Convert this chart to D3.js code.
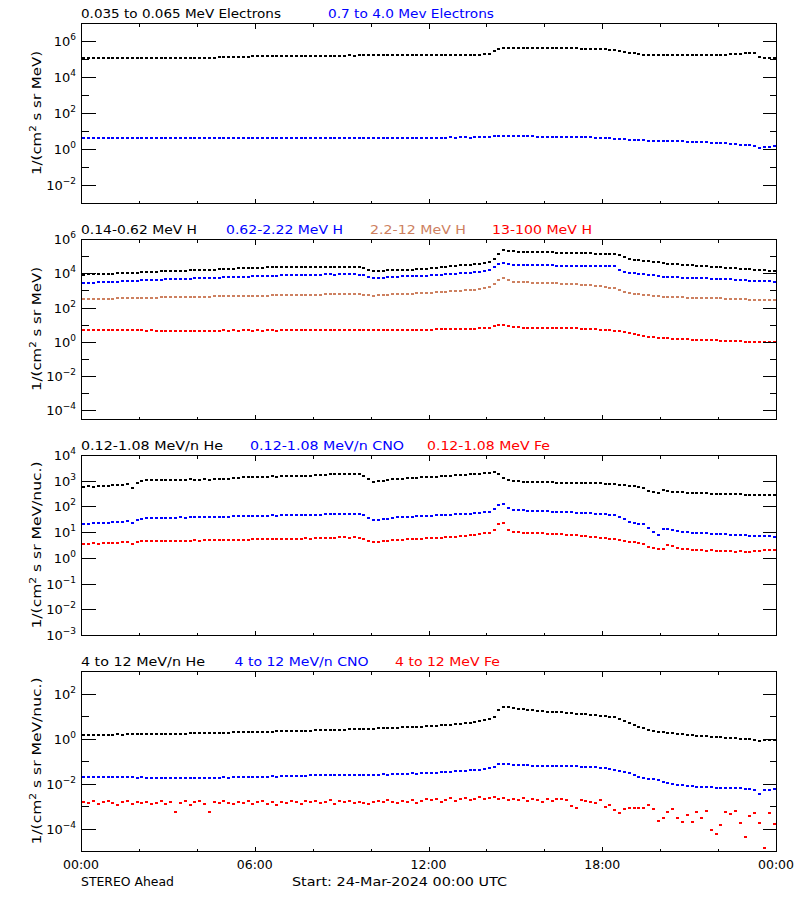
<!DOCTYPE html>
<html><head><meta charset="utf-8">
<script src="https://cdn.jsdelivr.net/npm/d3@7"></script>
<style>
body{margin:0;background:#fff}
svg{display:block}
text{font-family:"DejaVu Sans",sans-serif;fill:#000}
</style>
</head><body><div id="chart"></div>
<script>
// ---------------- DATA (log10 of flux, 10-minute bins starting 24-Mar-2024 00:00 UTC) ----------------
const stepMinutes = 10;
const xTickHours = [0,2,4,6,8,10,12,14,16,18,20,22,24];
const xMajorHours = [0,6,12,18,24];
const xTickLabels = ["00:00","06:00","12:00","18:00","00:00"];

const panelTitles = [
  ["0.035 to 0.065 MeV Electrons","0.7 to 4.0 Mev Electrons"],
  ["0.14-0.62 MeV H","0.62-2.22 MeV H","2.2-12 MeV H","13-100 MeV H"],
  ["0.12-1.08 MeV/n He","0.12-1.08 MeV/n CNO","0.12-1.08 MeV Fe"],
  ["4 to 12 MeV/n He","4 to 12 MeV/n CNO","4 to 12 MeV Fe"]
];
const yAxisTitles = ["1/(cm|2| s sr MeV)","1/(cm|2| s sr MeV)","1/(cm|2| s sr MeV/nuc.)","1/(cm|2| s sr MeV/nuc.)"];
const yDomainsExp = [[-3,7],[-4.5,6],[-3,4],[-5,3]];
const yMajorExp = [[6,4,2,0,-2],[6,4,2,0,-2,-4],[4,3,2,1,0,-1,-2,-3],[2,0,-2,-4]];
const yMinorExp = [[5,3,1,-1],[5,3,1,-1,-3],[],[3,1,-1,-3]];
const footerLeft = "STEREO Ahead";
const footerMid = "Start: 24-Mar-2024 00:00 UTC";

// Panel 1: electrons
const elecLow = [
5.06,5.05,5.06,5.07,5.06,5.05, 5.06,5.06,5.05,5.06,5.07,5.06, 5.06,5.07,5.06,5.06,5.07,5.07, 5.07,5.06,5.07,5.08,5.07,5.07,
5.08,5.07,5.08,5.08,5.09,5.10, 5.11,5.12,5.12,5.13,5.13,5.14, 5.14,5.14,5.15,5.14,5.15,5.15, 5.15,5.16,5.15,5.15,5.16,5.16,
5.16,5.17,5.17,5.18,5.18,5.19, 5.19,5.20,5.19,5.20,5.20,5.21, 5.20,5.21,5.21,5.22,5.21,5.22, 5.22,5.22,5.21,5.22,5.23,5.22,
5.22,5.23,5.22,5.23,5.23,5.24, 5.23,5.24,5.24,5.25,5.25,5.26, 5.30,5.45,5.56,5.60,5.61,5.62, 5.62,5.61,5.62,5.62,5.61,5.61,
5.61,5.60,5.61,5.60,5.60,5.59, 5.59,5.58,5.58,5.57,5.57,5.56, 5.55,5.52,5.48,5.44,5.40,5.36, 5.32,5.28,5.25,5.23,5.22,5.21,
5.21,5.20,5.21,5.20,5.20,5.21, 5.20,5.20,5.21,5.20,5.21,5.21, 5.22,5.24,5.26,5.28,5.30,5.31, 5.32,5.33,5.12,5.07,5.06,5.06];
const elecHigh = [
0.61,0.60,0.61,0.60,0.61,0.60, 0.60,0.61,0.60,0.60,0.59,0.60, 0.60,0.59,0.60,0.60,0.59,0.59, 0.59,0.60,0.59,0.59,0.60,0.59,
0.59,0.59,0.60,0.59,0.59,0.60, 0.60,0.59,0.60,0.60,0.61,0.60, 0.60,0.61,0.60,0.61,0.61,0.60, 0.61,0.61,0.62,0.61,0.61,0.62,
0.62,0.61,0.62,0.62,0.61,0.62, 0.62,0.62,0.61,0.62,0.63,0.62, 0.61,0.61,0.62,0.62,0.61,0.62, 0.62,0.62,0.63,0.62,0.62,0.63,
0.63,0.62,0.63,0.63,0.64,0.63, 0.64,0.64,0.63,0.64,0.65,0.65, 0.66,0.70,0.73,0.74,0.73,0.72, 0.71,0.71,0.70,0.70,0.69,0.69,
0.68,0.68,0.67,0.67,0.66,0.66, 0.65,0.65,0.64,0.64,0.63,0.62, 0.61,0.60,0.58,0.56,0.54,0.52, 0.50,0.49,0.48,0.47,0.46,0.45,
0.45,0.44,0.43,0.43,0.42,0.41, 0.40,0.39,0.38,0.37,0.36,0.35, 0.33,0.31,0.29,0.27,0.25,0.23, 0.20,0.15,0.08,0.10,0.12,0.14];

// Panel 2: protons
const protonA = [
3.92,3.93,3.94,3.95,3.95,3.96, 3.98,3.99,4.00,4.01,4.03,4.04, 4.05,4.06,4.08,4.10,4.12,4.12, 4.13,4.14,4.15,4.16,4.17,4.18,
4.19,4.20,4.21,4.22,4.23,4.24, 4.26,4.27,4.28,4.30,4.31,4.32, 4.33,4.33,4.34,4.34,4.35,4.35, 4.36,4.35,4.36,4.37,4.36,4.37,
4.37,4.38,4.37,4.38,4.38,4.37, 4.38,4.37,4.36,4.35,4.30,4.22, 4.14,4.13,4.15,4.17,4.18,4.19, 4.21,4.22,4.22,4.24,4.25,4.25,
4.30,4.33,4.36,4.39,4.42,4.44, 4.46,4.48,4.50,4.52,4.55,4.60, 4.68,4.85,5.10,5.34,5.30,5.28, 5.27,5.26,5.25,5.24,5.24,5.23,
5.22,5.22,5.21,5.20,5.20,5.19, 5.18,5.18,5.17,5.16,5.15,5.14, 5.13,5.12,5.11,5.05,4.95,4.85, 4.80,4.77,4.74,4.70,4.66,4.63,
4.60,4.57,4.55,4.53,4.51,4.49, 4.47,4.45,4.43,4.41,4.39,4.37, 4.35,4.33,4.31,4.29,4.27,4.25, 4.23,4.21,4.19,4.17,4.16,4.15];
const protonB = [
3.44,3.45,3.46,3.47,3.48,3.50, 3.51,3.52,3.54,3.55,3.56,3.57, 3.58,3.60,3.61,3.62,3.63,3.64, 3.65,3.66,3.67,3.68,3.69,3.70,
3.71,3.72,3.73,3.74,3.75,3.76, 3.77,3.78,3.79,3.80,3.81,3.82, 3.83,3.84,3.85,3.86,3.87,3.88, 3.88,3.89,3.90,3.90,3.91,3.91,
3.92,3.92,3.93,3.93,3.92,3.93, 3.93,3.94,3.93,3.92,3.88,3.80, 3.74,3.73,3.75,3.77,3.79,3.80, 3.82,3.83,3.84,3.85,3.86,3.87,
3.88,3.90,3.92,3.94,3.96,3.98, 4.00,4.02,4.04,4.06,4.09,4.12, 4.20,4.35,4.55,4.62,4.55,4.50, 4.49,4.48,4.48,4.47,4.47,4.46,
4.46,4.46,4.45,4.45,4.45,4.44, 4.44,4.44,4.43,4.43,4.42,4.42, 4.42,4.41,4.40,4.20,4.05,4.01, 3.99,3.97,3.95,3.92,3.88,3.84,
3.80,3.78,3.77,3.76,3.75,3.74, 3.73,3.72,3.71,3.70,3.69,3.68, 3.67,3.66,3.64,3.62,3.60,3.58, 3.57,3.56,3.55,3.54,3.53,3.52];
const protonC = [
2.48,2.49,2.50,2.50,2.51,2.52, 2.52,2.53,2.54,2.54,2.55,2.56, 2.56,2.57,2.58,2.58,2.59,2.60, 2.60,2.61,2.61,2.62,2.62,2.63,
2.63,2.64,2.64,2.65,2.65,2.66, 2.66,2.67,2.67,2.68,2.68,2.69, 2.69,2.70,2.70,2.71,2.72,2.72, 2.73,2.73,2.74,2.74,2.75,2.75,
2.76,2.76,2.77,2.77,2.78,2.78, 2.79,2.79,2.80,2.79,2.76,2.72, 2.70,2.71,2.73,2.75,2.77,2.78, 2.80,2.81,2.82,2.83,2.84,2.85,
2.86,2.88,2.90,2.92,2.94,2.96, 2.98,3.00,3.02,3.05,3.08,3.12, 3.18,3.35,3.60,3.74,3.60,3.52, 3.50,3.48,3.47,3.46,3.45,3.44,
3.43,3.42,3.41,3.40,3.39,3.38, 3.36,3.34,3.32,3.30,3.28,3.25, 3.20,3.16,3.12,3.00,2.90,2.86, 2.82,2.79,2.76,2.72,2.68,2.65,
2.63,2.62,2.61,2.60,2.59,2.58, 2.57,2.56,2.56,2.55,2.54,2.54, 2.53,2.52,2.51,2.50,2.49,2.48, 2.47,2.46,2.45,2.44,2.44,2.43];
const protonD = [
0.71,0.70,0.70,0.71,0.70,0.69, 0.69,0.68,0.69,0.68,0.68,0.67, 0.67,0.66,0.67,0.66,0.66,0.66, 0.66,0.65,0.66,0.66,0.65,0.66,
0.66,0.66,0.65,0.66,0.66,0.67, 0.66,0.67,0.66,0.67,0.67,0.66, 0.67,0.66,0.67,0.67,0.66,0.67, 0.67,0.67,0.68,0.67,0.68,0.68,
0.68,0.67,0.68,0.68,0.69,0.68, 0.69,0.68,0.69,0.69,0.68,0.67, 0.67,0.68,0.68,0.69,0.69,0.70, 0.70,0.70,0.71,0.71,0.72,0.72,
0.72,0.73,0.73,0.74,0.74,0.75, 0.75,0.76,0.76,0.77,0.78,0.79, 0.82,0.90,0.98,1.00,0.92,0.86, 0.84,0.83,0.83,0.82,0.82,0.82,
0.81,0.81,0.81,0.80,0.80,0.79, 0.78,0.77,0.76,0.74,0.73,0.71, 0.70,0.68,0.66,0.62,0.56,0.52, 0.48,0.42,0.36,0.30,0.27,0.25,
0.22,0.20,0.18,0.16,0.15,0.14, 0.13,0.12,0.11,0.10,0.09,0.08, 0.07,0.06,0.05,0.04,0.03,0.02, 0.02,0.01,0.00,0.00,-0.01,-0.02];

// Panel 3: 0.12-1.08 MeV/n ions
const ionLowHe = [
2.77,2.78,2.77,2.79,2.80,2.81, 2.82,2.83,2.84,2.86,2.72,2.92, 2.99,3.02,3.03,3.02,3.03,3.04, 3.03,3.04,3.03,3.04,3.05,3.03,
3.04,3.05,3.04,3.06,3.05,3.06, 3.08,3.10,3.12,3.13,3.14,3.15, 3.16,3.15,3.16,3.17,3.16,3.17, 3.18,3.17,3.18,3.19,3.18,3.20,
3.22,3.23,3.24,3.25,3.25,3.26, 3.26,3.25,3.26,3.25,3.20,3.08, 2.96,2.97,3.00,3.03,3.05,3.07, 3.08,3.09,3.10,3.12,3.13,3.14,
3.15,3.16,3.18,3.19,3.20,3.22, 3.23,3.24,3.26,3.27,3.28,3.30, 3.31,3.32,3.25,3.09,3.02,2.98, 2.97,2.96,2.96,2.95,2.95,2.95,
2.94,2.94,2.93,2.93,2.93,2.92, 2.92,2.92,2.91,2.91,2.90,2.90, 2.89,2.89,2.88,2.85,2.82,2.80, 2.78,2.76,2.70,2.60,2.55,2.53,
2.62,2.60,2.58,2.56,2.55,2.54, 2.53,2.52,2.52,2.51,2.50,2.50, 2.49,2.49,2.48,2.47,2.47,2.46, 2.46,2.45,2.45,2.44,2.44,2.44];
const ionLowCNO = [
1.32,1.33,1.34,1.35,1.36,1.37, 1.38,1.40,1.41,1.43,1.36,1.48, 1.52,1.54,1.55,1.54,1.55,1.56, 1.55,1.56,1.57,1.56,1.57,1.58,
1.57,1.58,1.59,1.58,1.59,1.60, 1.60,1.61,1.62,1.62,1.63,1.63, 1.64,1.63,1.64,1.65,1.64,1.65, 1.65,1.66,1.65,1.66,1.67,1.66,
1.67,1.68,1.69,1.70,1.70,1.71, 1.71,1.70,1.71,1.70,1.65,1.55, 1.46,1.47,1.50,1.53,1.55,1.57, 1.58,1.59,1.60,1.61,1.62,1.63,
1.64,1.65,1.66,1.67,1.68,1.69, 1.70,1.71,1.72,1.74,1.75,1.77, 1.79,1.90,2.06,2.08,1.95,1.88, 1.86,1.85,1.84,1.83,1.82,1.82,
1.81,1.80,1.79,1.79,1.78,1.77, 1.76,1.75,1.74,1.73,1.72,1.71, 1.70,1.68,1.66,1.60,1.52,1.40, 1.36,1.33,1.32,1.15,1.00,0.90,
1.12,1.14,1.10,1.05,1.02,1.00, 0.98,0.97,0.96,0.95,0.94,0.93, 0.92,0.91,0.90,0.89,0.88,0.87, 0.86,0.86,0.85,0.84,0.84,0.83];
const ionLowFe = [
0.54,0.55,0.56,0.55,0.57,0.58, 0.58,0.59,0.60,0.61,0.55,0.63, 0.64,0.65,0.64,0.66,0.65,0.66, 0.65,0.66,0.67,0.66,0.67,0.68,
0.67,0.68,0.69,0.68,0.69,0.70, 0.69,0.70,0.71,0.70,0.71,0.72, 0.72,0.73,0.72,0.74,0.73,0.74, 0.74,0.75,0.74,0.75,0.76,0.75,
0.76,0.77,0.78,0.78,0.79,0.80, 0.80,0.79,0.80,0.79,0.74,0.66, 0.60,0.62,0.64,0.66,0.68,0.70, 0.71,0.72,0.73,0.74,0.75,0.76,
0.77,0.78,0.79,0.80,0.82,0.83, 0.84,0.86,0.88,0.90,0.92,0.95, 0.98,1.10,1.30,1.35,1.08,1.02, 1.00,0.98,0.97,0.96,0.95,0.95,
0.94,0.93,0.92,0.91,0.90,0.89, 0.88,0.86,0.84,0.82,0.80,0.78, 0.76,0.74,0.73,0.70,0.66,0.62, 0.60,0.56,0.52,0.44,0.38,0.33,
0.36,0.50,0.46,0.40,0.36,0.33, 0.32,0.30,0.29,0.28,0.30,0.27, 0.26,0.28,0.25,0.24,0.27,0.23, 0.24,0.26,0.28,0.30,0.32,0.31];

// Panel 4: 4-12 MeV/n ions
const ionHighHe = [
0.16,0.15,0.16,0.17,0.16,0.17, 0.17,0.18,0.17,0.18,0.19,0.18, 0.19,0.19,0.20,0.19,0.20,0.21, 0.21,0.22,0.21,0.22,0.23,0.23,
0.23,0.24,0.24,0.25,0.25,0.26, 0.26,0.27,0.27,0.28,0.28,0.29, 0.30,0.30,0.31,0.31,0.32,0.32, 0.33,0.33,0.34,0.34,0.35,0.35,
0.36,0.37,0.37,0.38,0.39,0.39, 0.40,0.41,0.41,0.42,0.43,0.43, 0.44,0.45,0.46,0.46,0.47,0.48, 0.49,0.50,0.51,0.52,0.53,0.54,
0.56,0.57,0.59,0.60,0.62,0.64, 0.66,0.68,0.71,0.74,0.77,0.81, 0.86,0.95,1.28,1.42,1.38,1.34, 1.31,1.29,1.27,1.25,1.24,1.22,
1.20,1.19,1.17,1.16,1.14,1.13, 1.11,1.09,1.08,1.06,1.04,1.02, 1.00,0.97,0.94,0.88,0.80,0.70, 0.60,0.52,0.45,0.38,0.33,0.30,
0.27,0.25,0.23,0.21,0.19,0.17, 0.15,0.13,0.11,0.10,0.08,0.07, 0.05,0.04,0.02,0.01,-0.01,-0.02, -0.04,-0.06,-0.10,-0.08,-0.07,-0.06];
const ionHighCNO = [
-1.72,-1.70,-1.71,-1.69,-1.70,-1.71, -1.70,-1.72,-1.71,-1.73,-1.72,-1.74, -1.73,-1.75,-1.74,-1.76,-1.75,-1.77, -1.76,-1.75,-1.77,-1.76,-1.75,-1.76,
-1.75,-1.76,-1.74,-1.75,-1.74,-1.73, -1.74,-1.72,-1.73,-1.71,-1.72,-1.70, -1.70,-1.69,-1.70,-1.68,-1.69,-1.67, -1.67,-1.66,-1.67,-1.65,-1.66,-1.64,
-1.64,-1.63,-1.64,-1.62,-1.63,-1.61, -1.61,-1.62,-1.60,-1.61,-1.62,-1.63, -1.62,-1.60,-1.59,-1.60,-1.58,-1.57, -1.57,-1.56,-1.55,-1.56,-1.54,-1.53,
-1.53,-1.52,-1.50,-1.49,-1.48,-1.46, -1.45,-1.44,-1.42,-1.40,-1.38,-1.36, -1.33,-1.28,-1.14,-1.12,-1.15,-1.17, -1.18,-1.19,-1.19,-1.20,-1.20,-1.21,
-1.21,-1.22,-1.22,-1.23,-1.23,-1.24, -1.24,-1.25,-1.26,-1.27,-1.28,-1.30, -1.33,-1.36,-1.40,-1.44,-1.50,-1.55, -1.62,-1.70,-1.76,-1.79,-1.82,-1.86,
-1.92,-1.98,-2.02,-2.05,-2.08,-2.10, -2.12,-2.14,-2.15,-2.16,-2.17,-2.18, -2.18,-2.19,-2.20,-2.21,-2.22,-2.23, -2.24,-2.28,-2.46,-2.30,-2.27,-2.25];
const ionHighFe = [
-2.80,-2.88,-2.76,-2.92,-2.84,-2.79, -2.86,-2.95,-2.81,-2.78,-2.90,-2.83, -2.87,-2.80,-2.93,-2.85,-2.77,-2.89, -2.82,-3.25,-2.86,-2.79,-2.94,-2.84,
-2.78,-2.90,-3.27,-2.83,-2.88,-2.76, -2.85,-2.93,-2.80,-2.87,-2.79,-2.91, -2.83,-2.77,-2.89,-2.82,-2.95,-2.80, -2.86,-2.78,-2.84,-2.92,-2.76,-2.83,
-2.79,-2.87,-2.81,-2.75,-2.90,-2.78, -2.82,-2.76,-2.88,-2.80,-2.86,-2.93, -2.84,-2.78,-2.83,-2.74,-2.81,-2.87, -2.76,-2.82,-2.73,-2.85,-2.78,-2.71,
-2.75,-2.69,-2.80,-2.72,-2.66,-2.77, -2.70,-2.64,-2.74,-2.68,-2.62,-2.71, -2.66,-2.60,-2.69,-2.63,-2.74,-2.67, -2.72,-2.65,-2.78,-2.69,-2.75,-2.83,
-2.70,-2.77,-2.68,-2.70,-2.73,-3.00, -3.08,-2.72,-2.78,-2.81,-2.88,-2.73, -3.03,-2.96,-3.18,-3.32,-3.12,-3.10, -3.08,-3.10,-3.10,-2.96,-3.14,-3.67,
-3.52,-3.25,-3.15,-3.52,-3.70,-3.39, -3.70,-3.25,-3.55,-3.22,-4.07,-4.24, -3.84,-3.25,-3.37,-3.21,-3.77,-4.36, -3.44,-3.32,-3.74,-4.88,-3.30,-3.81];

const seriesColors = ["#000000","#0000ff","#cd8060","#ff0000"];
const panelSeries = [
  [elecLow, elecHigh],
  [protonA, protonB, protonC, protonD],
  [ionLowHe, ionLowCNO, ionLowFe],
  [ionHighHe, ionHighCNO, ionHighFe]
];
const panelColors = [
  ["#000000","#0000ff"],
  ["#000000","#0000ff","#cd8060","#ff0000"],
  ["#000000","#0000ff","#ff0000"],
  ["#000000","#0000ff","#ff0000"]
];

// ---------------- LAYOUT ----------------
const W = 800, H = 900;
const left = 81, right = 776;
const panelTops = [23, 239, 455, 671];
const panelH = 180;
const titleX = [[81,328],[81,226,370,492],[81,250,427],[81,234.5,395]];
const titleW = [[200,166],[116,117,96,100],[142,154,123],[124,134,105]];
const yTitleLen = [124,124,167,167];

const svg = d3.select("#chart").append("svg").attr("width", W).attr("height", H);
const start = new Date(Date.UTC(2024,2,24,0,0,0));
const end = new Date(start.getTime() + 24*3600e3);
const x = d3.scaleUtc().domain([start,end]).range([left,right]);
const hourDate = h => new Date(start.getTime() + h*3600e3);

panelTops.forEach((top, p) => {
  const bottom = top + panelH;
  const y = d3.scaleLog().domain([Math.pow(10,yDomainsExp[p][0]), Math.pow(10,yDomainsExp[p][1])]).range([bottom, top]);
  const g = svg.append("g");

  // clip
  const clipId = "clip"+p;
  svg.append("clipPath").attr("id", clipId).append("rect")
    .attr("x", left+1).attr("y", top+1).attr("width", right-left-1).attr("height", panelH-1);

  // data points
  const dg = g.append("g").attr("clip-path", `url(#${clipId})`);
  panelSeries[p].forEach((arr, s) => {
    const pts = arr.map((v,i) => ({t: new Date(start.getTime() + (i*stepMinutes + stepMinutes/2)*60e3), v: Math.pow(10, v)}));
    dg.selectAll(null).data(pts).enter().append("rect")
      .attr("x", d => Math.round(x(d.t)) - 1)
      .attr("y", d => Math.round(y(d.v)) - 1)
      .attr("width", 3).attr("height", 2)
      .attr("fill", panelColors[p][s])
      .attr("shape-rendering","crispEdges");
  });

  // frame
  g.append("rect").attr("x", left+0.5).attr("y", top+0.5).attr("width", right-left).attr("height", panelH)
    .attr("fill","none").attr("stroke","#000").attr("stroke-width",1).attr("shape-rendering","crispEdges");

  // x ticks (bottom and top, inward)
  xTickHours.forEach(h => {
    const xx = Math.round(x(hourDate(h))) + 0.5;
    const len = xMajorHours.includes(h) ? 5 : 3;
    g.append("line").attr("x1",xx).attr("x2",xx).attr("y1",bottom+0.5).attr("y2",bottom+0.5-len)
      .attr("stroke","#000").attr("shape-rendering","crispEdges");
    g.append("line").attr("x1",xx).attr("x2",xx).attr("y1",top+0.5).attr("y2",top+0.5+len)
      .attr("stroke","#000").attr("shape-rendering","crispEdges");
  });

  // y ticks
  const yt = (e, len) => {
    const yy = Math.round(y(Math.pow(10,e))) + 0.5;
    g.append("line").attr("x1",left+0.5).attr("x2",left+0.5+len).attr("y1",yy).attr("y2",yy)
      .attr("stroke","#000").attr("shape-rendering","crispEdges");
    g.append("line").attr("x1",right+0.5).attr("x2",right+0.5-len).attr("y1",yy).attr("y2",yy)
      .attr("stroke","#000").attr("shape-rendering","crispEdges");
    return yy;
  };
  yMinorExp[p].forEach(e => yt(e, 7));
  yMajorExp[p].forEach(e => {
    const yy = yt(e, 14);
    const t = g.append("text").attr("x", 76).attr("y", yy + 4.5).attr("text-anchor","end").style("font-size","13px");
    t.append("tspan").text("10");
    t.append("tspan").attr("dy",-6).style("font-size","9px").text(e < 0 ? "\u2212" + Math.abs(e) : String(e));
  });

  // y axis title
  const parts = yAxisTitles[p].split("|");
  const cy = top + panelH/2;
  const yt2 = g.append("text").attr("transform", `translate(41,${cy}) rotate(-90)`)
    .attr("text-anchor","middle").style("font-size","13px")
    .attr("textLength", yTitleLen[p]).attr("lengthAdjust","spacingAndGlyphs");
  yt2.append("tspan").text(parts[0]);
  yt2.append("tspan").attr("dy",-5).style("font-size","9px").text(parts[1]);
  yt2.append("tspan").attr("dy",5).text(parts[2]);

  // panel titles
  panelTitles[p].forEach((txt, k) => {
    g.append("text").attr("x", titleX[p][k]).attr("y", top - 5)
      .style("font-size","13px").style("fill", panelColors[p][k])
      .attr("textLength", titleW[p][k]).attr("lengthAdjust","spacingAndGlyphs")
      .text(txt);
  });

  // bottom labels only on last panel
  if (p === panelTops.length - 1) {
    xMajorHours.forEach((h, k) => {
      g.append("text").attr("x", x(hourDate(h))).attr("y", bottom + 18)
        .attr("text-anchor","middle").style("font-size","13px")
        .attr("textLength", 36).attr("lengthAdjust","spacingAndGlyphs")
        .text(xTickLabels[k]);
    });
    g.append("text").attr("x", 81).attr("y", bottom + 35).style("font-size","13px")
      .attr("textLength", 93).attr("lengthAdjust","spacingAndGlyphs").text(footerLeft);
    g.append("text").attr("x", 292).attr("y", bottom + 35).style("font-size","13px")
      .attr("textLength", 215).attr("lengthAdjust","spacingAndGlyphs").text(footerMid);
  }
});
</script>
</body></html>
